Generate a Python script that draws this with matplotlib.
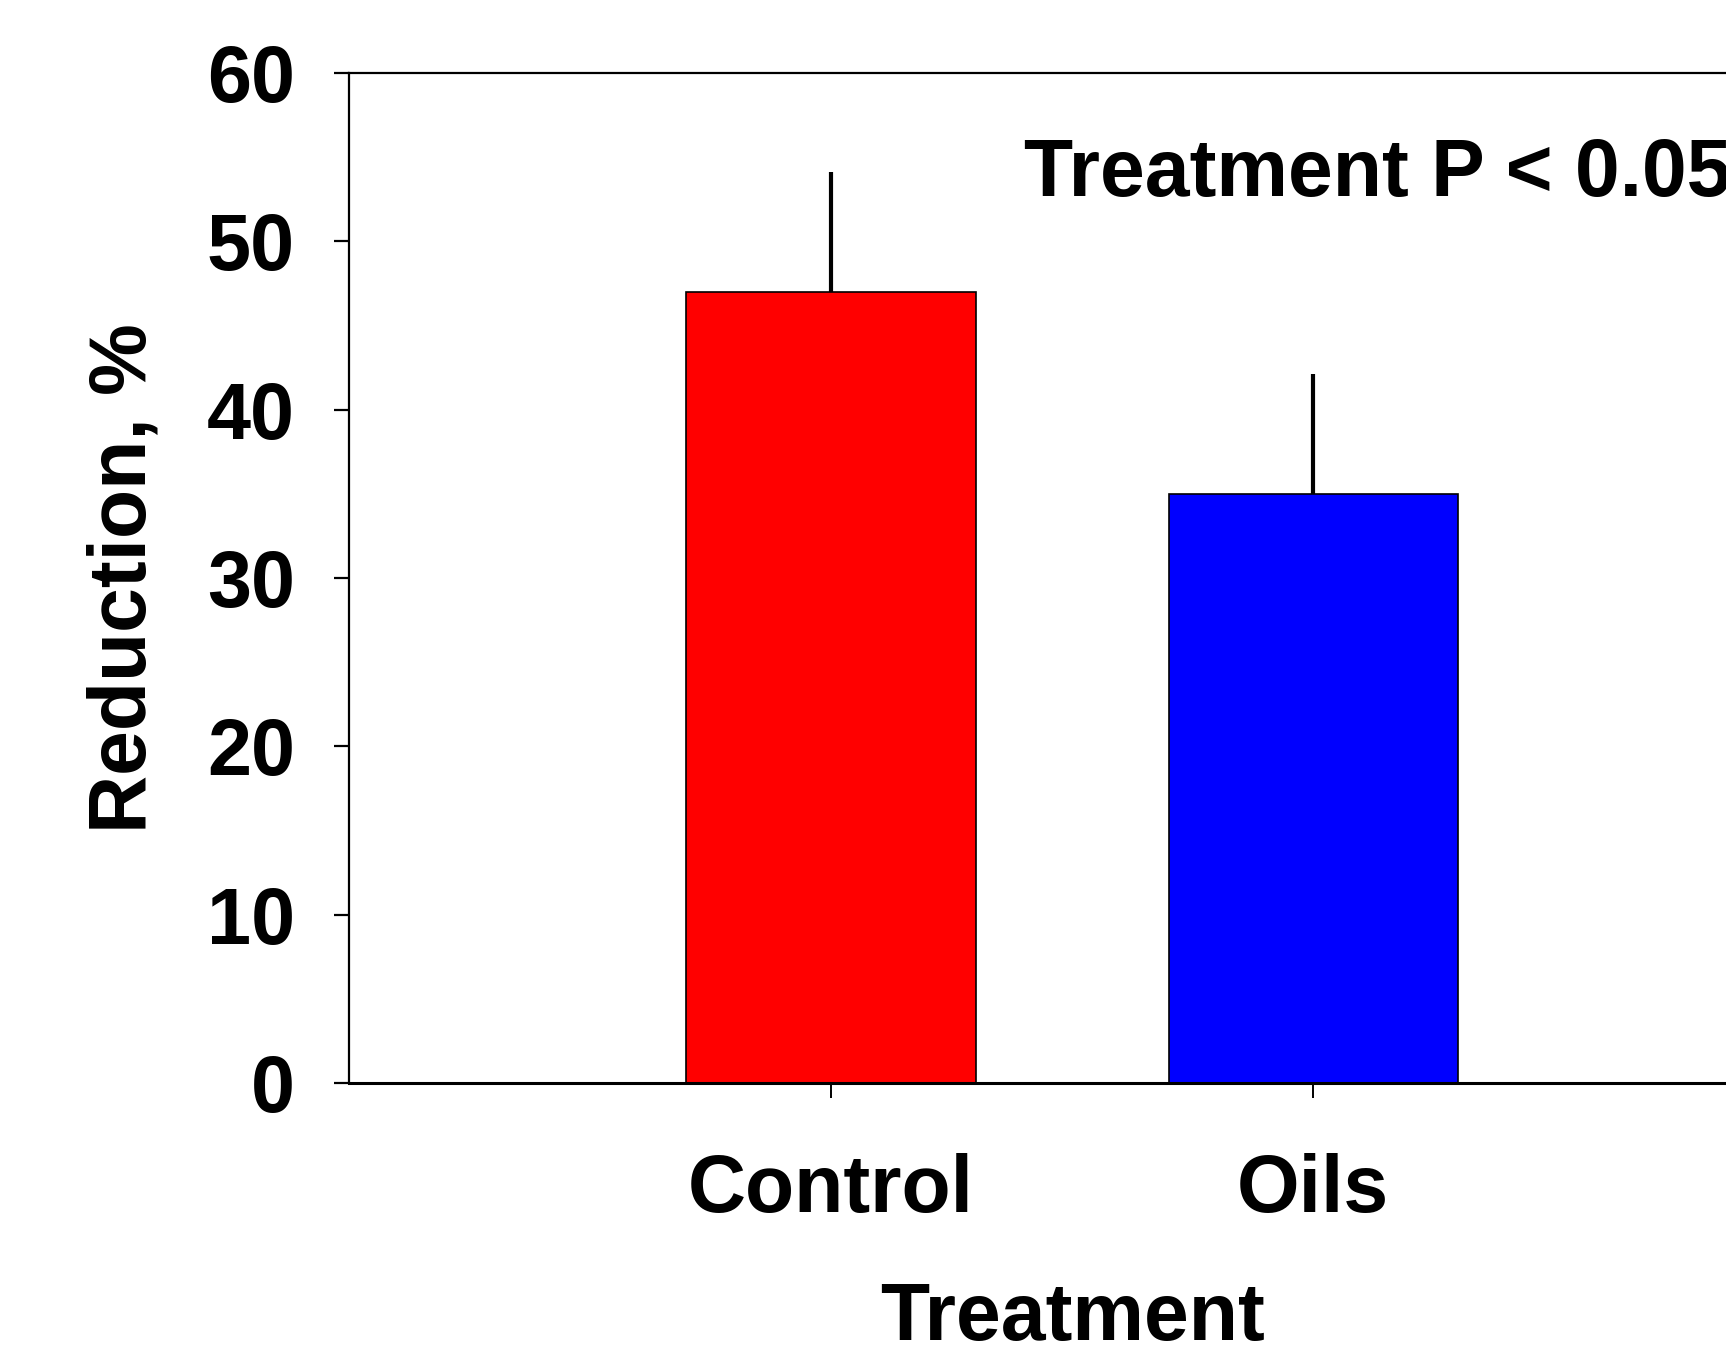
import matplotlib
matplotlib.use("Agg")
import matplotlib.pyplot as plt

treatments = ["Control", "Oils"]
reduction = [47.0, 35.0]
err_upper = [7.1, 7.1]
bar_colors = ["#ff0000", "#0000ff"]
y_ticks = [0, 10, 20, 30, 40, 50, 60]

plt.rcParams["font.family"] = ["Liberation Sans", "DejaVu Sans"]
plt.rcParams["font.weight"] = "bold"

fig = plt.figure(figsize=(17.26, 13.45), dpi=100)
ax = fig.add_axes([0.2022, 0.1946, 0.838, 0.7514])

pos = [1, 2]
ax.bar(pos, reduction, width=0.6, color=bar_colors, edgecolor="black", linewidth=1.2, zorder=2)
ax.errorbar(pos, reduction, yerr=[[0, 0], err_upper], fmt="none", ecolor="black",
            elinewidth=3.0, capsize=0, zorder=3)

ax.set_xlim(0, 3)
ax.set_ylim(0, 60)
ax.set_yticks(y_ticks)
ax.set_xticks(pos)
ax.set_xticklabels(treatments)

for s in ["left", "top", "bottom"]:
    ax.spines[s].set_linewidth(1.6)
ax.spines["bottom"].set_linewidth(2.2)
ax.spines["right"].set_visible(False)

ax.tick_params(axis="y", direction="out", length=11, width=1.6, pad=28, labelsize=57)
ax.tick_params(axis="x", direction="out", length=11, width=1.4, pad=39, labelsize=58)
for lab in ax.get_xticklabels() + ax.get_yticklabels():
    lab.set_fontweight("bold")

ax.set_ylabel("Reduction, %", fontsize=58, fontweight="bold", labelpad=32)
ax.set_xlabel("Treatment", fontsize=58, fontweight="bold", labelpad=38)

ax.text(1.40, 52.7, "Treatment P < 0.05", fontsize=58, fontweight="bold",
        ha="left", va="baseline", clip_on=False)

fig.savefig("out.png", dpi=100)
